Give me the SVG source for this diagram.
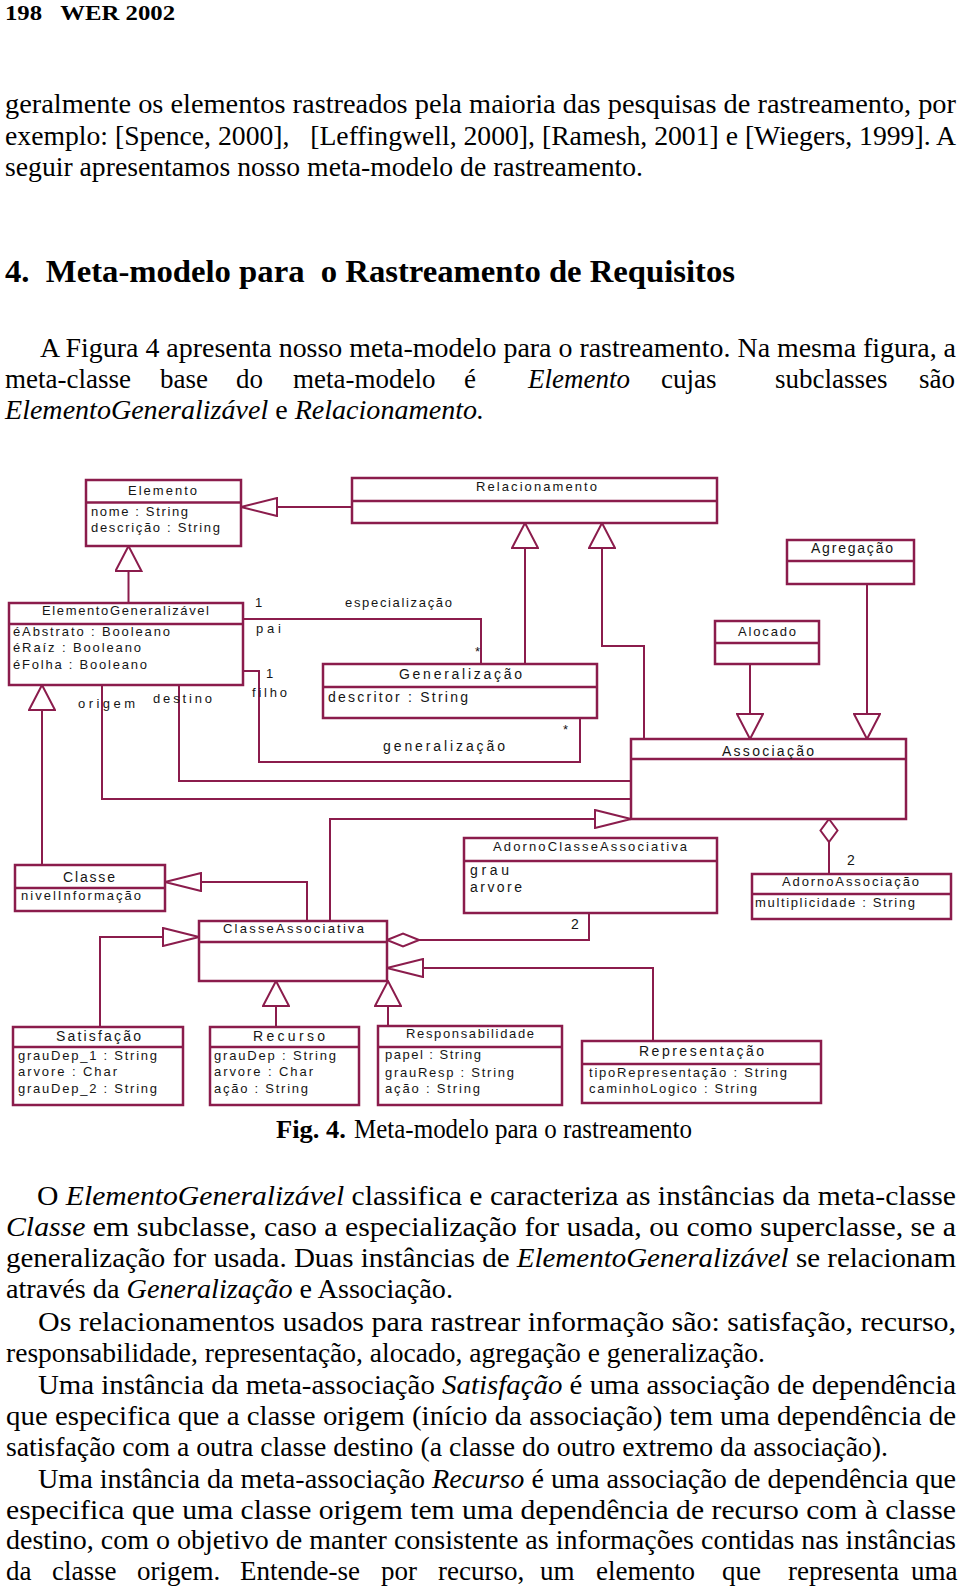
<svg xmlns="http://www.w3.org/2000/svg" width="960" height="1590" viewBox="0 0 960 1590">
<style>
.bx{fill:#fff;stroke:#8b1c4c;stroke-width:2.5}
.sp{fill:none;stroke:#8b1c4c;stroke-width:2.5}
.ln{fill:none;stroke:#8b1c4c;stroke-width:2}
.dt{font-family:"Liberation Sans",Arial,sans-serif;font-size:13px;fill:#151515}
.dl{font-family:"Liberation Sans",Arial,sans-serif;font-size:14px;fill:#151515}
.bd{font-family:"Liberation Serif","Times New Roman",serif;font-size:27px;fill:#000}
.it{font-style:italic}
.hb{font-family:"Liberation Serif","Times New Roman",serif;font-weight:bold;fill:#000}
</style>
<defs>
<marker id="genH" viewBox="0 0 38 20" refX="37" refY="10" markerWidth="38" markerHeight="20" orient="auto" markerUnits="userSpaceOnUse">
<path d="M1,1 L37,10 L1,19 Z" fill="#fff" stroke="#8b1c4c" stroke-width="2"/>
</marker>
<marker id="genV" viewBox="0 0 27 28" refX="26" refY="14" markerWidth="27" markerHeight="28" orient="auto" markerUnits="userSpaceOnUse">
<path d="M1,1 L26,14 L1,27 Z" fill="#fff" stroke="#8b1c4c" stroke-width="2"/>
</marker>
<marker id="diaH" viewBox="0 0 34 16" refX="1" refY="8" markerWidth="34" markerHeight="16" orient="auto" markerUnits="userSpaceOnUse">
<path d="M1,8 L17,1.5 L33,8 L17,14.5 Z" fill="#fff" stroke="#8b1c4c" stroke-width="2"/>
</marker>
<marker id="diaV" viewBox="0 0 25 20" refX="1" refY="10" markerWidth="25" markerHeight="20" orient="auto" markerUnits="userSpaceOnUse">
<path d="M1,10 L12.5,1.5 L24,10 L12.5,18.5 Z" fill="#fff" stroke="#8b1c4c" stroke-width="2"/>
</marker>
</defs>
<rect x="0" y="0" width="960" height="1590" fill="#fff"/>

<!-- page text -->
<g id="page-text">
<text class="hb" x="5" y="20" font-size="20" textLength="170" lengthAdjust="spacingAndGlyphs" xml:space="preserve">198   WER 2002</text>
<text class="bd" x="5" y="113" textLength="951" lengthAdjust="spacingAndGlyphs">geralmente os elementos rastreados pela maioria das pesquisas de rastreamento, por</text>
<text class="bd" x="5" y="145" textLength="951" lengthAdjust="spacingAndGlyphs" xml:space="preserve">exemplo: [Spence, 2000],   [Leffingwell, 2000], [Ramesh, 2001] e [Wiegers, 1999]. A</text>
<text class="bd" x="5" y="176" textLength="638" lengthAdjust="spacingAndGlyphs">seguir apresentamos nosso meta-modelo de rastreamento.</text>
<text class="hb" x="5" y="282" font-size="32" textLength="730" lengthAdjust="spacingAndGlyphs" xml:space="preserve">4.  Meta-modelo para  o Rastreamento de Requisitos</text>
<text class="bd" x="40" y="357" textLength="916" lengthAdjust="spacingAndGlyphs">A Figura 4 apresenta nosso meta-modelo para o rastreamento. Na mesma figura, a</text>
<text class="bd" y="388"><tspan x="5">meta-classe</tspan><tspan x="160">base</tspan><tspan x="236">do</tspan><tspan x="293">meta-modelo</tspan><tspan x="464">é</tspan><tspan x="528" class="it">Elemento</tspan><tspan x="661">cujas</tspan><tspan x="775">subclasses</tspan><tspan x="919">são</tspan></text>
<text class="bd" x="5" y="419" textLength="479" lengthAdjust="spacingAndGlyphs"><tspan class="it">ElementoGeneralizável</tspan> e <tspan class="it">Relacionamento.</tspan></text>

<text class="hb" x="276" y="1138" font-size="25" textLength="70" lengthAdjust="spacingAndGlyphs">Fig. 4.</text>
<text class="bd" x="354" y="1138" font-size="25" textLength="338" lengthAdjust="spacingAndGlyphs">Meta-modelo para o rastreamento</text>

<text class="bd" x="37" y="1205" textLength="919" lengthAdjust="spacingAndGlyphs">O <tspan class="it">ElementoGeneralizável</tspan> classifica e caracteriza as instâncias da meta-classe</text>
<text class="bd" x="6" y="1236" textLength="950" lengthAdjust="spacingAndGlyphs"><tspan class="it">Classe</tspan> em subclasse, caso a especialização for usada, ou como superclasse, se a</text>
<text class="bd" x="6" y="1267" textLength="950" lengthAdjust="spacingAndGlyphs">generalização for usada. Duas instâncias de <tspan class="it">ElementoGeneralizável</tspan> se relacionam</text>
<text class="bd" x="6" y="1298" textLength="447" lengthAdjust="spacingAndGlyphs">através da <tspan class="it">Generalização</tspan> e Associação.</text>
<text class="bd" x="38" y="1331" textLength="918" lengthAdjust="spacingAndGlyphs">Os relacionamentos usados para rastrear informação são: satisfação, recurso,</text>
<text class="bd" x="6" y="1362" textLength="759" lengthAdjust="spacingAndGlyphs">responsabilidade, representação, alocado, agregação e generalização.</text>
<text class="bd" x="38" y="1394" textLength="918" lengthAdjust="spacingAndGlyphs">Uma instância da meta-associação <tspan class="it">Satisfação</tspan> é uma associação de dependência</text>
<text class="bd" x="6" y="1425" textLength="950" lengthAdjust="spacingAndGlyphs">que especifica que a classe origem (início da associação) tem uma dependência de</text>
<text class="bd" x="6" y="1456" textLength="882" lengthAdjust="spacingAndGlyphs">satisfação com a outra classe destino (a classe do outro extremo da associação).</text>
<text class="bd" x="38" y="1488" textLength="918" lengthAdjust="spacingAndGlyphs">Uma instância da meta-associação <tspan class="it">Recurso</tspan> é uma associação de dependência que</text>
<text class="bd" x="6" y="1519" textLength="950" lengthAdjust="spacingAndGlyphs">especifica que uma classe origem tem uma dependência de recurso com à classe</text>
<text class="bd" x="6" y="1549" textLength="950" lengthAdjust="spacingAndGlyphs">destino, com o objetivo de manter consistente as informações contidas nas instâncias</text>
<text class="bd" y="1580"><tspan x="6">da</tspan><tspan x="52">classe</tspan><tspan x="137">origem.</tspan><tspan x="240">Entende-se</tspan><tspan x="381">por</tspan><tspan x="438">recurso,</tspan><tspan x="540">um</tspan><tspan x="596">elemento</tspan><tspan x="722">que</tspan><tspan x="788">representa</tspan><tspan x="911">uma</tspan></text>
</g>

<!-- connectors -->
<g id="connectors">
<path class="ln" d="M352,507 L241,507" marker-end="url(#genH)"/>
<path class="ln" d="M128.5,603 L128.5,546" marker-end="url(#genV)"/>
<path class="ln" d="M525,664 L525,523" marker-end="url(#genV)"/>
<path class="ln" d="M644,739 L644,646 L602,646 L602,523" marker-end="url(#genV)"/>
<path class="ln" d="M750,664 L750,739" marker-end="url(#genV)"/>
<path class="ln" d="M867,584 L867,739" marker-end="url(#genV)"/>
<path class="ln" d="M243,619 L481,619 L481,664"/>
<path class="ln" d="M243,671 L259,671 L259,762 L580,762 L580,718"/>
<path class="ln" d="M179,685 L179,781 L631,781"/>
<path class="ln" d="M102,685 L102,799 L631,799"/>
<path class="ln" d="M42,865 L42,685" marker-end="url(#genV)"/>
<path class="ln" d="M330,921 L330,819 L631,819" marker-end="url(#genH)"/>
<path class="ln" d="M307,921 L307,882 L165,882" marker-end="url(#genH)"/>
<path class="ln" d="M387,940 L589,940 L589,913" marker-start="url(#diaH)"/>
<path class="ln" d="M100,1027 L100,937 L199,937" marker-end="url(#genH)"/>
<path class="ln" d="M276,1027 L276,981" marker-end="url(#genV)"/>
<path class="ln" d="M388,1026 L388,981" marker-end="url(#genV)"/>
<path class="ln" d="M653,1041 L653,968 L387,968" marker-end="url(#genH)"/>
<path class="ln" d="M829,819 L829,874" marker-start="url(#diaV)"/>
<text class="dt" x="255" y="607">1</text>
<text class="dt" x="345" y="607" textLength="107" lengthAdjust="spacing">especialização</text>
<text class="dt" x="256" y="633" textLength="25" lengthAdjust="spacing">pai</text>
<text class="dt" x="475" y="656">*</text>
<text class="dt" x="266" y="678">1</text>
<text class="dt" x="252" y="697" textLength="35" lengthAdjust="spacing">filho</text>
<text class="dt" x="563" y="734">*</text>
<text class="dl" x="383" y="751" textLength="122" lengthAdjust="spacing">generalização</text>
<text class="dt" x="78" y="708" textLength="57" lengthAdjust="spacing">origem</text>
<text class="dt" x="153" y="703" textLength="59" lengthAdjust="spacing">destino</text>
<text class="dl" x="571" y="929">2</text>
<text class="dl" x="847" y="865">2</text>
</g>

<g id="Elemento">
<rect class="bx" x="86" y="480" width="155" height="66"/>
<line class="sp" x1="86" y1="502.5" x2="241" y2="502.5"/>
<text class="dt" x="128" y="495" textLength="69" lengthAdjust="spacing">Elemento</text>
<text class="dt" x="91" y="516" textLength="97" lengthAdjust="spacing">nome : String</text>
<text class="dt" x="91" y="532" textLength="129" lengthAdjust="spacing">descrição : String</text>
</g>
<g id="Relacionamento">
<rect class="bx" x="352" y="478" width="365" height="45"/>
<line class="sp" x1="352" y1="501" x2="717" y2="501"/>
<text class="dt" x="476" y="491" textLength="121" lengthAdjust="spacing">Relacionamento</text>
</g>
<g id="Agregacao">
<rect class="bx" x="787" y="540" width="127" height="44"/>
<line class="sp" x1="787" y1="561" x2="914" y2="561"/>
<text class="dl" x="811" y="553" textLength="82" lengthAdjust="spacing">Agregação</text>
</g>
<g id="ElementoGeneralizavel">
<rect class="bx" x="9" y="603" width="234" height="82"/>
<line class="sp" x1="9" y1="624" x2="243" y2="624"/>
<text class="dt" x="42" y="615" textLength="167" lengthAdjust="spacing">ElementoGeneralizável</text>
<text class="dt" x="13" y="636" textLength="157" lengthAdjust="spacing">éAbstrato : Booleano</text>
<text class="dt" x="13" y="652" textLength="128" lengthAdjust="spacing">éRaíz : Booleano</text>
<text class="dt" x="13" y="669" textLength="134" lengthAdjust="spacing">éFolha : Booleano</text>
</g>
<g id="Alocado">
<rect class="bx" x="715" y="621" width="104" height="43"/>
<line class="sp" x1="715" y1="643" x2="819" y2="643"/>
<text class="dt" x="738" y="636" textLength="58" lengthAdjust="spacing">Alocado</text>
</g>
<g id="Generalizacao">
<rect class="bx" x="323" y="664" width="274" height="54"/>
<line class="sp" x1="323" y1="687" x2="597" y2="687"/>
<text class="dl" x="399" y="679" textLength="123" lengthAdjust="spacing">Generalização</text>
<text class="dl" x="328" y="702" textLength="140" lengthAdjust="spacing">descritor : String</text>
</g>
<g id="Associacao">
<rect class="bx" x="631" y="739" width="275" height="80"/>
<line class="sp" x1="631" y1="759" x2="906" y2="759"/>
<text class="dl" x="722" y="756" textLength="92" lengthAdjust="spacing">Associação</text>
</g>
<g id="AdornoClasseAssociativa">
<rect class="bx" x="464" y="838" width="253" height="75"/>
<line class="sp" x1="464" y1="861" x2="717" y2="861"/>
<text class="dt" x="493" y="851" textLength="194" lengthAdjust="spacing">AdornoClasseAssociativa</text>
<text class="dl" x="470" y="875" textLength="39" lengthAdjust="spacing">grau</text>
<text class="dl" x="470" y="892" textLength="52" lengthAdjust="spacing">arvore</text>
</g>
<g id="AdornoAssociacao">
<rect class="bx" x="752" y="874" width="199" height="45"/>
<line class="sp" x1="752" y1="894" x2="951" y2="894"/>
<text class="dt" x="782" y="886" textLength="137" lengthAdjust="spacing">AdornoAssociação</text>
<text class="dt" x="755" y="907" textLength="160" lengthAdjust="spacing">multiplicidade : String</text>
</g>
<g id="Classe">
<rect class="bx" x="15" y="865" width="150" height="46"/>
<line class="sp" x1="15" y1="888" x2="165" y2="888"/>
<text class="dl" x="63" y="882" textLength="52" lengthAdjust="spacing">Classe</text>
<text class="dt" x="21" y="900" textLength="120" lengthAdjust="spacing">nivelInformação</text>
</g>
<g id="ClasseAssociativa">
<rect class="bx" x="199" y="921" width="188" height="60"/>
<line class="sp" x1="199" y1="942" x2="387" y2="942"/>
<text class="dt" x="223" y="933" textLength="141" lengthAdjust="spacing">ClasseAssociativa</text>
</g>
<g id="Satisfacao">
<rect class="bx" x="13" y="1027" width="170" height="78"/>
<line class="sp" x1="13" y1="1047" x2="183" y2="1047"/>
<text class="dl" x="56" y="1041" textLength="85" lengthAdjust="spacing">Satisfação</text>
<text class="dt" x="18" y="1060" textLength="139" lengthAdjust="spacing">grauDep_1 : String</text>
<text class="dt" x="18" y="1076" textLength="99" lengthAdjust="spacing">arvore : Char</text>
<text class="dt" x="18" y="1093" textLength="139" lengthAdjust="spacing">grauDep_2 : String</text>
</g>
<g id="Recurso">
<rect class="bx" x="210" y="1027" width="149" height="78"/>
<line class="sp" x1="210" y1="1047" x2="359" y2="1047"/>
<text class="dl" x="253" y="1041" textLength="72" lengthAdjust="spacing">Recurso</text>
<text class="dt" x="214" y="1060" textLength="122" lengthAdjust="spacing">grauDep : String</text>
<text class="dt" x="214" y="1076" textLength="99" lengthAdjust="spacing">arvore : Char</text>
<text class="dt" x="214" y="1093" textLength="94" lengthAdjust="spacing">ação : String</text>
</g>
<g id="Responsabilidade">
<rect class="bx" x="378" y="1026" width="184" height="79"/>
<line class="sp" x1="378" y1="1047" x2="562" y2="1047"/>
<text class="dt" x="406" y="1038" textLength="128" lengthAdjust="spacing">Responsabilidade</text>
<text class="dt" x="385" y="1059" textLength="96" lengthAdjust="spacing">papel : String</text>
<text class="dt" x="385" y="1077" textLength="129" lengthAdjust="spacing">grauResp : String</text>
<text class="dt" x="385" y="1093" textLength="95" lengthAdjust="spacing">ação : String</text>
</g>
<g id="Representacao">
<rect class="bx" x="582" y="1041" width="239" height="62"/>
<line class="sp" x1="582" y1="1064" x2="821" y2="1064"/>
<text class="dl" x="639" y="1056" font-size="15" textLength="125" lengthAdjust="spacing">Representação</text>
<text class="dt" x="589" y="1077" textLength="198" lengthAdjust="spacing">tipoRepresentação : String</text>
<text class="dt" x="589" y="1093" textLength="168" lengthAdjust="spacing">caminhoLogico : String</text>
</g>
</svg>
